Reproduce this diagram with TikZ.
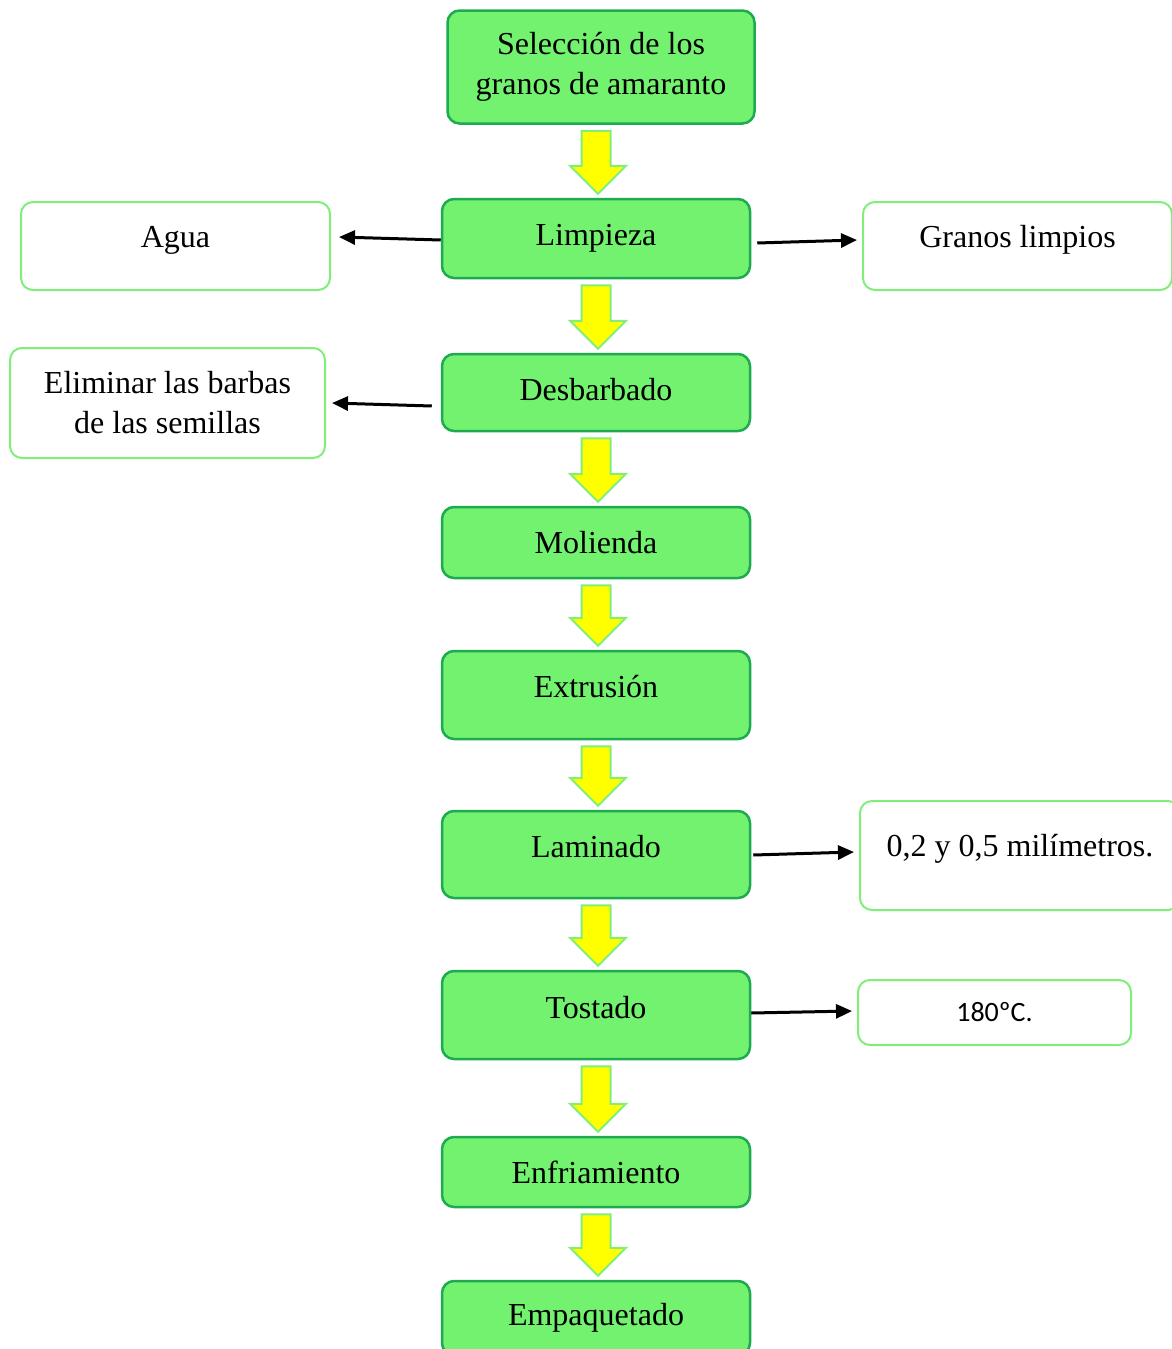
\documentclass[tikz,border=0pt]{standalone}
\usepackage{fontspec}
\setmainfont{Liberation Serif}
\newfontfamily\calibri{Carlito}
\usepackage{tikz}
\usepackage{xcolor}
\usetikzlibrary{arrows.meta,calc}

\definecolor{stepgreen}{RGB}{114,242,110}
\definecolor{stepborder}{RGB}{30,170,80}
\definecolor{sideborder}{RGB}{128,238,120}
\definecolor{arrowyellow}{RGB}{255,255,0}

\tikzset{
    stepbox/.style={draw=stepborder, fill=stepgreen, line width=1.25pt,
        rounded corners=6pt, minimum width=154pt, inner sep=0pt,
        align=center, font=\fontsize{16}{20}\selectfont},
    sidebox/.style={draw=sideborder, fill=white, line width=1pt,
        rounded corners=6pt, inner sep=0pt, align=center,
        font=\fontsize{16}{20}\selectfont},
    sidearrow/.style={line width=1.5pt, -{Triangle[length=8pt,width=7pt]}},
    yarrow/.style={draw=sideborder, fill=arrowyellow, line width=1pt,
        line join=miter}
}

% block arrow from one step to the next
\newcommand{\downarrowbox}[2]{%
    \draw[yarrow] let \p1=(#1.south), \p2=(#2.north) in
        (\x2-7.25pt,\y1-3pt) -- (\x2+7.25pt,\y1-3pt)
        -- (\x2+7.25pt,\y2+16pt) -- (\x2+15pt,\y2+16pt)
        -- (\x2+1pt,\y2+2pt) -- (\x2-13pt,\y2+16pt)
        -- (\x2-7.25pt,\y2+16pt) -- cycle;}

\begin{document}
\begin{tikzpicture}[x=0.5pt,y=-0.5pt]
    \useasboundingbox (0,0) rectangle (1172,1349);

    % Process steps
    \node[stepbox, minimum width=153.5pt, minimum height=56.5pt] (sel) at (601,67)
        {Selección de los\\granos de amaranto};
    \node[stepbox, minimum height=39.5pt] (lim) at (596,238.5) {Limpieza};
    \node[stepbox, minimum height=38.5pt, text depth=3pt] (des) at (596,392.5) {Desbarbado};
    \node[stepbox, minimum height=35.5pt] (mol) at (596,542.5) {Molienda};
    \node[stepbox, minimum height=44pt, text depth=9pt] (ext) at (596,695) {Extrusión};
    \node[stepbox, minimum height=43.5pt, text depth=8pt] (lam) at (596,854.5) {Laminado};
    \node[stepbox, minimum height=44pt, text depth=8pt] (tos) at (596,1015) {Tostado};
    \node[stepbox, minimum height=35pt] (enf) at (596,1172) {Enfriamiento};
    \node[stepbox, minimum height=37pt] (emp) at (596,1318) {Empaquetado};

    % Side notes
    \node[sidebox, minimum width=154.5pt, minimum height=44pt, text depth=9.5pt] (agua) at (175.5,246) {Agua};
    \node[sidebox, minimum width=154.5pt, minimum height=44pt, text depth=9.5pt] (gra) at (1017.5,246) {Granos limpios};
    \node[sidebox, minimum width=157.5pt, minimum height=55pt] (eli) at (167.5,403)
        {Eliminar las barbas\\de las semillas};
    \node[sidebox, minimum width=160pt, minimum height=54.5pt, text depth=10.5pt] (mil) at (1020,855.5)
        {0,2 y 0,5 milímetros.};
    \node[sidebox, minimum width=136.5pt, minimum height=32.5pt,
        font=\calibri\fontsize{14}{17}\selectfont] (cel) at (994.5,1012.5) {180ºC.};

    % Flow between steps
    \foreach \a/\b in {sel/lim, lim/des, des/mol, mol/ext, ext/lam, lam/tos, tos/enf, enf/emp}
        \downarrowbox{\a}{\b};

    % Outputs
    \draw[sidearrow] ([yshift=-0.75pt]lim.west) -- ([xshift=4pt,yshift=4.5pt]agua.east);
    \draw[sidearrow] ([xshift=3pt,yshift=-2.25pt]lim.east) -- ([xshift=-2.5pt,yshift=3pt]gra.west);
    \draw[sidearrow] ([xshift=-4.5pt,yshift=-6.75pt]des.west) -- ([xshift=3pt]eli.east);
    \draw[sidearrow] ([xshift=1pt,yshift=-0.25pt]lam.east) -- ([xshift=-2.5pt,yshift=1.75pt]mil.west);
    \draw[sidearrow] ([yshift=1pt]tos.east) -- ([xshift=-2.5pt,yshift=0.75pt]cel.west);
\end{tikzpicture}
\end{document}
